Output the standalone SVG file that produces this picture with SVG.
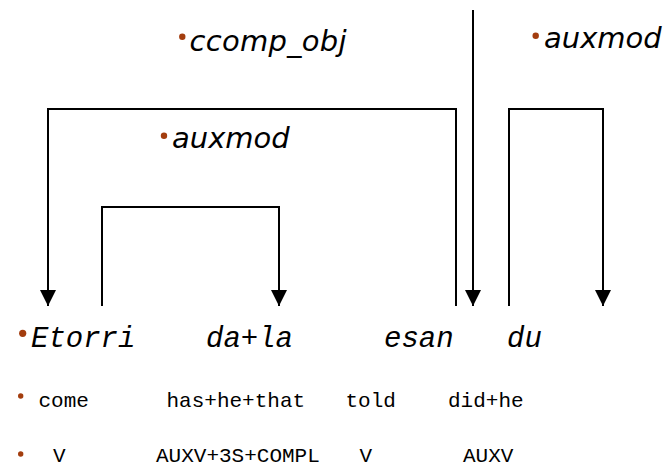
<svg xmlns="http://www.w3.org/2000/svg" width="669" height="467" viewBox="0 0 669 467">
<defs>
<style>
.lbl{font-family:"DejaVu Sans",sans-serif;font-style:italic;font-size:29px;fill:#000}
.word{font-family:"Liberation Mono",monospace;font-style:italic;font-size:29px;fill:#000}
.gl{font-family:"Liberation Mono",monospace;font-size:21px;fill:#000}
.bul{fill:#a33d0e}
.edge{fill:none;stroke:#000;stroke-width:2;stroke-linejoin:miter}
</style>
<marker id="arr" markerUnits="userSpaceOnUse" markerWidth="16" markerHeight="16" refX="15" refY="7.5" orient="auto" viewBox="0 0 15 15">
<path d="M0,0 L15,7.5 L0,15 z" fill="#000"/>
</marker>
</defs>
<rect width="669" height="467" fill="#fff"/>
<g id="connectors">
<path class="edge" d="M456,306 V109 H48 V306" marker-end="url(#arr)"/>
<path class="edge" d="M473,10 V306" marker-end="url(#arr)"/>
<path class="edge" d="M509,306 V109 H603 V306" marker-end="url(#arr)"/>
<path class="edge" d="M102,306 V207 H279 V306" marker-end="url(#arr)"/>
</g>
<g id="label-ccomp_obj">
<circle class="bul" cx="182.3" cy="36.7" r="3.2"/>
<text class="lbl" x="189.5" y="51" textLength="157">ccomp_obj</text>
</g>
<g id="label-auxmod-left">
<circle class="bul" cx="164" cy="135.7" r="3.2"/>
<text class="lbl" x="172" y="148">auxmod</text>
</g>
<g id="label-auxmod-right">
<circle class="bul" cx="535.7" cy="35.7" r="3.2"/>
<text class="lbl" x="544" y="48">auxmod</text>
</g>
<g id="node-Etorri">
<circle class="bul" cx="22.7" cy="333.3" r="3.6"/>
<text class="word" x="31" y="347">Etorri</text>
</g>
<g id="node-dala"><text class="word" x="206" y="347">da+la</text></g>
<g id="node-esan"><text class="word" x="384" y="347">esan</text></g>
<g id="node-du"><text class="word" x="507" y="347">du</text></g>
<g id="gloss">
<circle class="bul" cx="20.7" cy="396" r="2.7"/>
<text class="gl" x="38.5" y="407">come</text>
<text class="gl" x="166.5" y="407">has+he+that</text>
<text class="gl" x="345.5" y="407">told</text>
<text class="gl" x="448" y="407">did+he</text>
</g>
<g id="pos">
<circle class="bul" cx="20.7" cy="454" r="2.7"/>
<text class="gl" x="53" y="462">V</text>
<text class="gl" x="156" y="462">AUXV+3S+COMPL</text>
<text class="gl" x="359.5" y="462">V</text>
<text class="gl" x="463" y="462">AUXV</text>
</g>
</svg>
